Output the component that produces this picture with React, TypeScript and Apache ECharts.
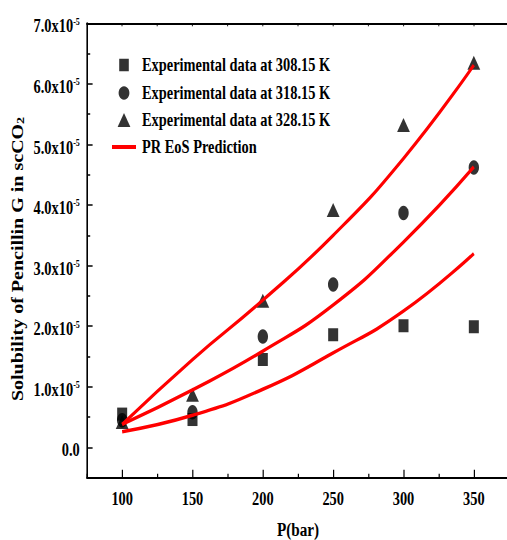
import React, { useEffect, useRef } from 'react';
import * as echarts from 'echarts';

// Pressure (bar)
const pressure = [100, 150, 200, 250, 300, 350];
// Solubility values in units of 1e-5 (mole fraction)
const exp308 = [0.55, 0.46, 1.45, 1.86, 2.01, 1.99];
const exp318 = [0.45, 0.58, 1.83, 2.69, 3.87, 4.62];
const exp328 = [0.42, 0.87, 2.42, 3.92, 5.32, 6.35];
const pr308 = [0.26, 0.53, 0.96, 1.56, 2.25, 3.2];
const pr318 = [0.38, 0.95, 1.59, 2.35, 3.39, 4.63];
const pr328 = [0.38, 1.45, 2.43, 3.5, 4.77, 6.31];

const seriesNames = [
  'Experimental data at 308.15 K',
  'Experimental data at 318.15 K',
  'Experimental data at 328.15 K',
  'PR EoS Prediction',
];

const xMajorTicks = [100, 150, 200, 250, 300, 350];
const xMinorTicks = [75, 125, 175, 225, 275, 325, 375];
const xTopTicks = [100, 125, 150, 175, 200, 225, 250, 275, 300, 325, 350];
const yMajorTicks = [0, 1, 2, 3, 4, 5, 6, 7];
const yMinorTicks = [0.5, 1.5, 2.5, 3.5, 4.5, 5.5, 6.5];

const SX = 0.8;
const W = 634;
const H = 540;
const FONT = '"Liberation Serif", "Times New Roman", serif';

const pairs = (ys: number[]) => pressure.map((p, i) => [p, ys[i]]);

const legendTextStyle = (padLeft: number) => ({
  fontFamily: FONT,
  fontWeight: 'bold',
  fontSize: 18,
  color: '#000',
  padding: [0, 0, 0, padLeft],
});

const makeLegend = (name: string, icon: string, w: number, h: number, rowCenter: number) => {
  const iconCenterX = 155;
  const textStart = 177.5;
  const left = iconCenterX - w / 2;
  return {
    orient: 'vertical',
    left,
    top: rowCenter - 9,
    padding: 0,
    itemWidth: w,
    itemHeight: h,
    textStyle: legendTextStyle(textStart - (left + w + 5)),
    data: [{ name, icon }],
  };
};

export default function App() {
  const ref = useRef<HTMLDivElement>(null);
  useEffect(() => {
    if (!ref.current) return;
    const chart = echarts.init(ref.current, null, { renderer: 'svg' });
    const axisLine = { show: true, onZero: false, lineStyle: { color: '#000', width: 2 } };
    const base = { type: 'value', min: 75, max: 375, splitLine: { show: false } };
    const ybase = { type: 'value', min: -0.5, max: 7, splitLine: { show: false } };
    const markerCommon = { type: 'scatter', itemStyle: { color: '#000' } };
    const lineCommon = {
      type: 'line',
      name: seriesNames[3],
      smooth: true,
      showSymbol: false,
      symbol: 'none',
      lineStyle: { color: '#ff0000', width: 3.5 },
      itemStyle: { color: '#ff0000' },
      z: 4,
    };
    chart.setOption({
      animation: false,
      backgroundColor: '#fff',
      grid: { left: 108.75, top: 23.3, width: 527.5, height: 454.4, containLabel: false, outerBoundsMode: 'none' },
      legend: [
        makeLegend(seriesNames[0], 'rect', 12, 12.5, 65),
        makeLegend(seriesNames[1], 'circle', 13.5, 14.5, 93),
        makeLegend(seriesNames[2], 'triangle', 16, 14, 120),
        makeLegend(seriesNames[3], 'rect', 30, 4, 147),
      ],
      graphic: [
        {
          type: 'text',
          x: 22.5,
          y: 259,
          rotation: Math.PI / 2,
          style: {
            text: 'Solubility of Pencillin G in scCO{sub|2}',
            fontFamily: FONT,
            fontWeight: 'bold',
            fontSize: 20,
            fill: '#000',
            align: 'center',
            verticalAlign: 'middle',
            rich: {
              sub: { fontFamily: FONT, fontWeight: 'bold', fontSize: 14, lineHeight: 14, verticalAlign: 'bottom', fill: '#000' },
            },
          },
        },
      ],
      xAxis: [
        {
          ...base,
          position: 'bottom',
          name: 'P(bar)',
          nameLocation: 'middle',
          nameGap: 43,
          nameTextStyle: { fontFamily: FONT, fontWeight: 'bold', fontSize: 19, color: '#000' },
          axisLine,
          axisTick: { show: true, inside: true, length: 8, customValues: xMajorTicks, lineStyle: { color: '#000', width: 1.5 } },
          axisLabel: {
            show: true,
            customValues: xMajorTicks,
            margin: 12,
            fontFamily: FONT,
            fontWeight: 'bold',
            fontSize: 18,
            color: '#000',
          },
        },
        {
          ...base,
          position: 'bottom',
          axisLine: { show: false, onZero: false },
          axisTick: { show: true, inside: true, length: 4, customValues: xMinorTicks, lineStyle: { color: '#000', width: 1.5 } },
          axisLabel: { show: false },
        },
        {
          ...base,
          position: 'top',
          axisLine,
          axisTick: { show: true, inside: true, length: 3, customValues: xTopTicks, lineStyle: { color: '#000', width: 1 } },
          axisLabel: { show: false },
        },
      ],
      yAxis: [
        {
          ...ybase,
          position: 'left',
          axisLine,
          axisTick: { show: true, inside: true, length: 7, customValues: yMajorTicks, lineStyle: { color: '#000', width: 1.5 } },
          axisLabel: {
            show: true,
            customValues: yMajorTicks,
            margin: 9,
            padding: [6, 0, 0, 0],
            fontFamily: FONT,
            fontWeight: 'bold',
            fontSize: 18,
            color: '#000',
            formatter: (v: number) => (v === 0 ? '{n|0.0}' : `{n|${v.toFixed(1)}x10}{s|-5}`),
            rich: {
              n: { fontFamily: FONT, fontWeight: 'bold', fontSize: 18, lineHeight: 20, color: '#000' },
              s: { fontFamily: FONT, fontWeight: 'bold', fontSize: 10, lineHeight: 10, verticalAlign: 'top', color: '#000' },
            },
          },
        },
        {
          ...ybase,
          position: 'left',
          axisLine: { show: false, onZero: false },
          axisTick: { show: true, inside: true, length: 4, customValues: yMinorTicks, lineStyle: { color: '#000', width: 1.5 } },
          axisLabel: { show: false },
        },
      ],
      series: [
        { ...markerCommon, z: 1, name: seriesNames[1], symbol: 'circle', symbolSize: [13, 14.5], data: pairs(exp318) },
        { ...markerCommon, z: 2, name: seriesNames[2], symbol: 'triangle', symbolSize: [16, 14], data: pairs(exp328) },
        { ...markerCommon, z: 3, name: seriesNames[0], symbol: 'rect', symbolSize: [12.5, 13], data: pairs(exp308) },
        { ...lineCommon, data: pairs(pr308) },
        { ...lineCommon, data: pairs(pr318) },
        { ...lineCommon, data: pairs(pr328) },
      ],
    });
    return () => chart.dispose();
  }, []);
  return (
    <div
      ref={ref}
      style={{
        position: 'absolute',
        left: 0,
        top: 0,
        width: W,
        height: H,
        transform: `scaleX(${SX})`,
        transformOrigin: '0 0',
      }}
    />
  );
}
